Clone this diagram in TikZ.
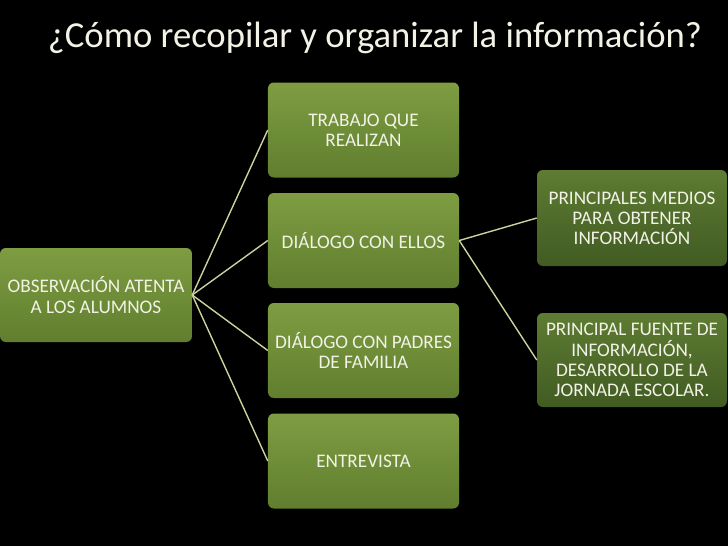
\documentclass[tikz,border=0pt]{standalone}
\usepackage{fontspec}
\setmainfont{Carlito}
\definecolor{boxtop}{HTML}{7E9D42}
\definecolor{boxbot}{HTML}{607E2E}
\definecolor{darktop}{HTML}{5E7C33}
\definecolor{darkbot}{HTML}{415B22}
\definecolor{linkcol}{HTML}{C9D39C}
\definecolor{txtcol}{HTML}{F2F2E6}
\tikzset{
    greenbox/.style={rectangle, rounded corners=5pt, top color=boxtop, bottom color=boxbot,
        text=txtcol, align=center, font=\fontsize{16.4}{17.2}\selectfont,
        minimum width=5.73cm, minimum height=2.85cm, inner sep=1pt},
    darkbox/.style={greenbox, top color=darktop, bottom color=darkbot, minimum width=5.7cm},
    link/.style={draw=linkcol, line width=1.2pt}
}
\begin{document}
\begin{tikzpicture}[x=0.03cm, y=-0.03cm]
                \fill[black] (0,0) rectangle (728,546);
                \useasboundingbox (0,0) rectangle (728,546);
                \node[text=txtcol, font=\fontsize{31.3}{36}\selectfont] (title) at (375,38) {¿Cómo recopilar y organizar la información?};
                % root
                \node[greenbox, minimum width=5.76cm, minimum height=2.82cm] (obs) at (96,295) {OBSERVACIÓN ATENTA\\A LOS ALUMNOS};
                % middle column
                \node[greenbox] (trabajo) at (363.5,130) {TRABAJO QUE\\REALIZAN};
                \node[greenbox] (ellos) at (363.5,240.5) {DIÁLOGO CON ELLOS};
                \node[greenbox] (padres) at (363.5,350.5) {DIÁLOGO CON PADRES\\DE FAMILIA};
                \node[greenbox] (entrevista) at (363.5,461) {ENTREVISTA};
                % right column
                \node[darkbox, minimum height=2.88cm] (medios) at (632,218) {PRINCIPALES MEDIOS\\PARA OBTENER\\INFORMACIÓN};
                \node[darkbox, minimum height=2.82cm] (fuente) at (632,360) {PRINCIPAL FUENTE DE\\INFORMACIÓN,\\DESARROLLO DE LA\\JORNADA ESCOLAR.};
                \draw[link] (obs.east) -- (trabajo.west);
                \draw[link] (obs.east) -- (ellos.west);
                \draw[link] (obs.east) -- (padres.west);
                \draw[link] (obs.east) -- (entrevista.west);
                \draw[link] (ellos.east) -- (medios.west);
                \draw[link] (ellos.east) -- (fuente.west);
            \end{tikzpicture}
\end{document}
